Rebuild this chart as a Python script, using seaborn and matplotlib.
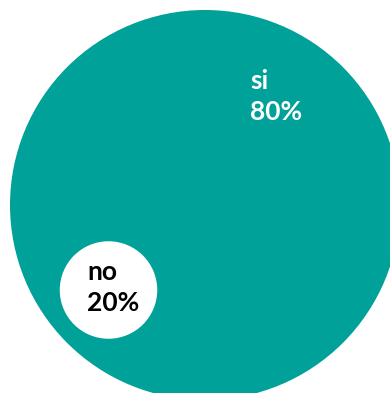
import matplotlib
matplotlib.use("Agg")
import matplotlib.pyplot as plt
import seaborn as sns
import pandas as pd

# Survey answers and their shares (%)
answers = ["si", "no"]
shares = [80, 20]
fill_colors = ["#00A198", "#FFFFFF"]
text_colors = ["#FFFFFF", "#000000"]

# Layout (pixel canvas) for bubble centres and label anchors
W, H, DPI = 390, 393, 100
centre_x = [205, 108.5]
centre_y = [205, 290]
label_x = [250, 87]
label_y = [89, 280]
line_gap = 31
radius_px_per_unit = 195 / 80  # bubble radius grows linearly with the share

df = pd.DataFrame({"answer": answers, "share": shares, "cx": centre_x, "cy": centre_y})
# marker area in points^2 so that the diameter (points) = 2 * radius
pt_per_px = 72 / DPI
marker_area = {a: (2 * radius_px_per_unit * v * pt_per_px) ** 2 for a, v in zip(answers, shares)}

sns.set_theme(style="white")
plt.rcParams["font.family"] = ["Lato", "DejaVu Sans"]

fig = plt.figure(figsize=(W / DPI, H / DPI), dpi=DPI)
ax = fig.add_axes([0, 0, 1, 1])
sns.scatterplot(
    data=df, x="cx", y="cy", hue="answer", size="answer",
    palette=dict(zip(answers, fill_colors)), sizes=marker_area,
    linewidth=0, legend=False, ax=ax, alpha=1,
)
ax.set_xlim(0, W)
ax.set_ylim(H, 0)
ax.axis("off")

for a, v, tx, ty, c in zip(answers, shares, label_x, label_y, text_colors):
    ax.text(tx, ty, a, color=c, fontsize=19, fontweight="bold", ha="left", va="baseline")
    ax.text(tx, ty + line_gap, f"{v}%", color=c, fontsize=19, fontweight="bold",
            ha="left", va="baseline")

fig.savefig("out.png", dpi=DPI, facecolor="white")
